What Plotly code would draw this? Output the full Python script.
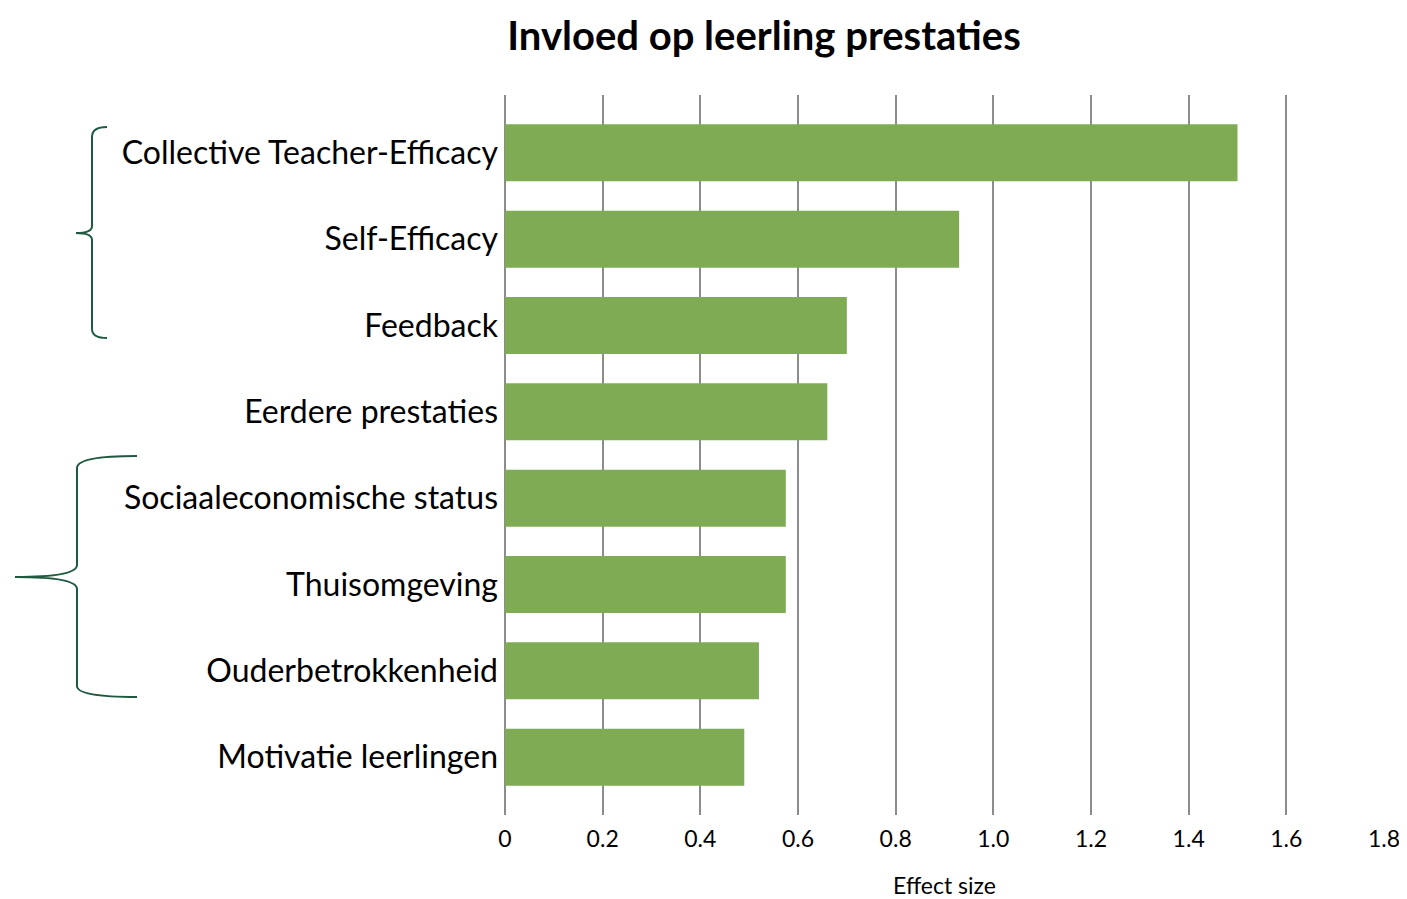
import plotly.graph_objects as go

categories = [
    "Collective Teacher-Efficacy",
    "Self-Efficacy",
    "Feedback",
    "Eerdere prestaties",
    "Sociaaleconomische status",
    "Thuisomgeving",
    "Ouderbetrokkenheid",
    "Motivatie leerlingen",
]
effect_sizes = [1.50, 0.93, 0.70, 0.66, 0.575, 0.575, 0.52, 0.49]
tick_values = [0, 0.2, 0.4, 0.6, 0.8, 1.0, 1.2, 1.4, 1.6, 1.8]
tick_labels = ["0", "0.2", "0.4", "0.6", "0.8", "1.0", "1.2", "1.4", "1.6", "1.8"]

OFF = 8  # default body margin of the page
W, H = 1407 - OFF, 899 - OFF
L, R, T, B = 505 - OFF, 1384 - OFF, 95 - OFF, 815 - OFF
FONT = "Lato"
BAR = "#7FAB55"
BRACE = "#1F5A40"

fig = go.Figure(go.Bar(
    x=effect_sizes, y=categories, orientation="h",
    marker=dict(color=BAR, line=dict(width=0)),
    width=0.66,
))

def px(x):
    return (x - OFF - L) / (R - L)

def py(y):
    return (B - (y - OFF)) / (B - T)

def path(points):
    s = ""
    for cmd, pts in points:
        s += cmd + " " + " ".join(f"{px(a):.5f},{py(b):.5f}" for a, b in pts) + " "
    return s.strip()

brace1 = path([
    ("M", [(107, 127)]),
    ("Q", [(92, 127), (92, 137)]),
    ("L", [(92, 226)]),
    ("Q", [(92, 233), (76, 233)]),
    ("Q", [(92, 233), (92, 240)]),
    ("L", [(92, 329)]),
    ("Q", [(92, 338), (107, 338)]),
])
brace2 = path([
    ("M", [(137, 456)]),
    ("Q", [(77, 456), (77, 468)]),
    ("L", [(77, 565)]),
    ("Q", [(77, 577), (15, 577)]),
    ("Q", [(77, 577), (77, 589)]),
    ("L", [(77, 686)]),
    ("Q", [(77, 697), (137, 697)]),
])

shapes = [
    dict(type="path", xref="paper", yref="paper", path=brace1,
         line=dict(color=BRACE, width=2)),
    dict(type="path", xref="paper", yref="paper", path=brace2,
         line=dict(color=BRACE, width=2)),
]

fig.update_layout(
    width=W, height=H,
    margin=dict(l=L, r=W - R, t=T, b=H - B),
    paper_bgcolor="white", plot_bgcolor="white",
    showlegend=False,
    title=dict(text="<b>Invloed op leerling prestaties</b>", x=(764 - OFF) / W, xanchor="center",
               y=1 - (36 - OFF) / H, yanchor="middle", yref="container",
               font=dict(family=FONT, size=40, color="black")),
    xaxis=dict(
        range=[0, 1.8], tickvals=tick_values, ticktext=tick_labels,
        showgrid=True, gridcolor="#8C8C8C", gridwidth=2,
        zeroline=True, zerolinecolor="#8C8C8C", zerolinewidth=2,
        showline=False, ticks="",
        tickfont=dict(family=FONT, size=23, color="black"),
        ticklabelstandoff=8,
        title=dict(text="Effect size", font=dict(family=FONT, size=23, color="black"), standoff=39),
        automargin=False,
        fixedrange=True,
    ),
    yaxis=dict(
        autorange=False, range=[7.67, -0.67],
        categoryorder="array", categoryarray=categories,
        showgrid=False, zeroline=False, showline=False, ticks="",
        tickfont=dict(family=FONT, size=32, color="black"),
        ticklabelstandoff=6,
        automargin=False,
        fixedrange=True,
    ),
    shapes=shapes,
    bargap=0.34,
)

fig.write_html("out.html")
